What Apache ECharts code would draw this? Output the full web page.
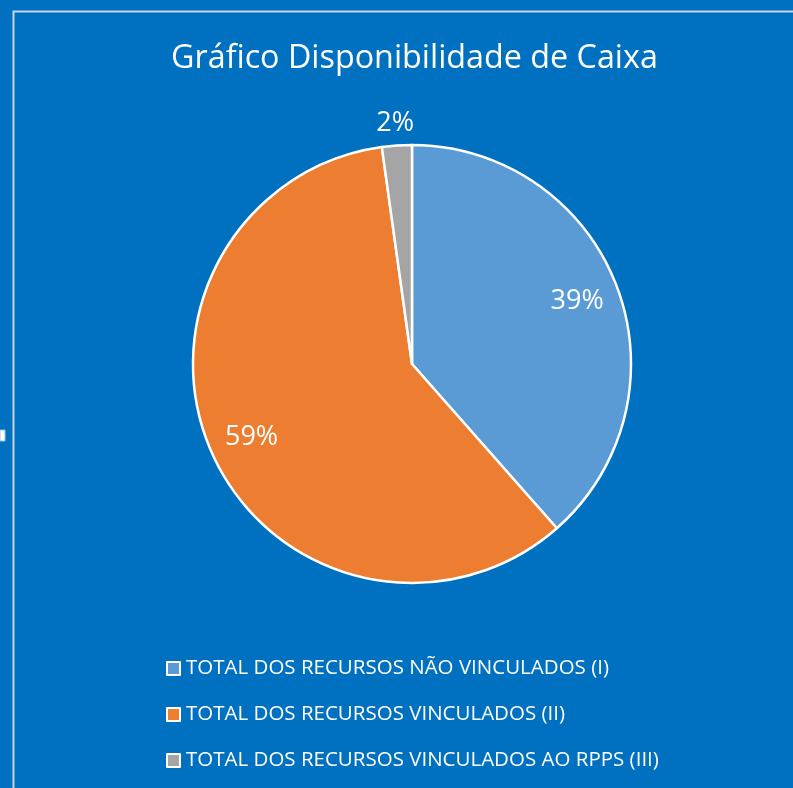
<!DOCTYPE html>
<html>
<head>
<meta charset="utf-8">
<script src="https://cdn.jsdelivr.net/npm/echarts@6/dist/echarts.min.js"></script>
<style>
  html, body { margin: 0; padding: 0; background: #0070c0; }
  #chart { width: 793px; height: 788px; }
</style>
</head>
<body>
<div id="chart"></div>
<script>
// dados do gráfico
const categorias = [
  'TOTAL DOS RECURSOS NÃO VINCULADOS (I)',
  'TOTAL DOS RECURSOS VINCULADOS (II)',
  'TOTAL DOS RECURSOS VINCULADOS AO RPPS (III)',
];
const valores = [38.5, 59.3, 2.2];
const cores = ['#5b9bd5', '#ed7d31', '#a5a5a5'];

const fonte = '"Open Sans", "Noto Sans", sans-serif';

const myChart = echarts.init(document.getElementById('chart'));

const dados = categorias.map((nome, i) => ({
  value: valores[i],
  name: nome,
  itemStyle: { color: cores[i] },
}));

const pctFmt = (p) => Math.round(p.percent) + '%';

const option = {
  backgroundColor: '#0070c0',
  title: {
    text: 'Gráfico Disponibilidade de Caixa',
    left: 166,
    top: 38,
    textStyle: {
      color: '#fff',
      fontFamily: fonte,
      fontWeight: 'normal',
      fontSize: 32.3,
    },
  },
  legend: {
    orient: 'vertical',
    left: 161,
    top: 653,
    itemGap: 25,
    itemWidth: 13,
    itemHeight: 13,
    icon: 'rect',
    itemStyle: { borderColor: '#fff', borderWidth: 2 },
    textStyle: { color: '#fff', fontFamily: fonte, fontSize: 20.5, padding: [0, 0, 0, 1] },
    data: categorias,
  },
  graphic: [
    {
      type: 'rect',
      shape: { x: 13.5, y: 11.5, width: 800, height: 800 },
      style: { fill: 'none', stroke: '#c8d4e0', lineWidth: 2 },
      silent: true,
    },
    {
      type: 'rect',
      shape: { x: 0, y: 430, width: 5, height: 11 },
      style: { fill: '#fff', stroke: '#9cc3e8', lineWidth: 1 },
      silent: true,
    },
  ],
  series: [
    {
      name: 'Caixa',
      type: 'pie',
      center: [412, 364],
      radius: [0, 219],
      startAngle: 90,
      clockwise: true,
      animation: false,
      label: { show: false },
      labelLine: { show: false },
      itemStyle: { borderColor: '#fff', borderWidth: 2.5 },
      data: dados,
    },
    {
      // camada transparente só para os rótulos
      name: 'Rotulos',
      type: 'pie',
      center: [412, 364],
      radius: [128, 219],
      startAngle: 90,
      clockwise: true,
      animation: false,
      silent: true,
      itemStyle: { color: 'rgba(0,0,0,0)', borderWidth: 0 },
      label: {
        show: true,
        position: 'inside',
        formatter: pctFmt,
        color: '#fff',
        fontFamily: fonte,
        fontSize: 27,
      },
      labelLine: { show: false, length: 12, length2: 0 },
      data: categorias.map((nome, i) => ({
        value: valores[i],
        name: nome,
        label: i === 2 ? { position: 'outside', offset: [23, -10] } : undefined,
      })),
    },
  ],
};

if (option && typeof option === 'object') {
  myChart.setOption(option, true);
}
</script>
</body>
</html>
